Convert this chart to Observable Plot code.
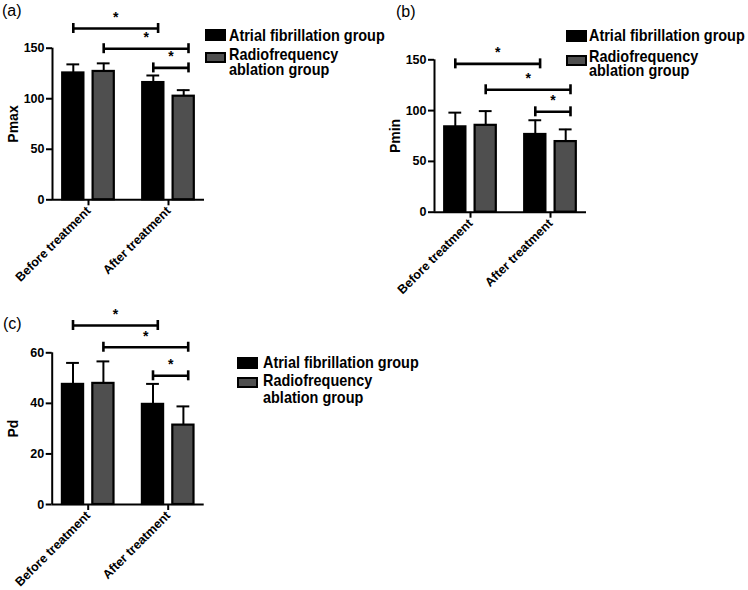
<!DOCTYPE html>
<html><head><meta charset="utf-8">
<script src="https://cdn.jsdelivr.net/npm/d3@7"></script>
<script src="https://cdn.jsdelivr.net/npm/@observablehq/plot@0.6"></script>
<style>
html,body{margin:0;padding:0;background:#fff;}
#fig{position:relative;width:748px;height:590px;overflow:hidden;background:#fff;
  font-family:"Liberation Sans",Arial,sans-serif;color:#000;}
#fig svg{position:absolute;overflow:visible;}
.plab{position:absolute;font-family:"Liberation Sans",Arial,sans-serif;font-size:16px;line-height:16px;white-space:nowrap;}
.sw{position:absolute;box-sizing:border-box;}
.lt{position:absolute;white-space:nowrap;font-weight:bold;font-size:17px;line-height:15px;height:15px;
  transform:scaleX(0.85);transform-origin:0 50%;}
</style></head><body><div id="fig"></div>
<script>
// ---------- data ----------
const groups = ["Before treatment", "After treatment"];
const seriesNames = ["Atrial fibrillation group", "Radiofrequency ablation group"];
const seriesColors = ["#000000", "#4f4f4f"];

// Pmax: [before, after]
const pmaxAF = [125.5, 116];   const pmaxAFsd = [8.5, 7];
const pmaxRF = [127, 102.5];   const pmaxRFsd = [8, 6];
// Pmin
const pminAF = [84, 76.5];     const pminAFsd = [14, 14];
const pminRF = [85.5, 69.5];   const pminRFsd = [14, 12];
// Pd
const pdAF = [47.5, 39.6];     const pdAFsd = [8.5, 8.1];
const pdRF = [47.9, 31.4];     const pdRFsd = [8.7, 7.4];

// comparisons: [groupA, seriesA, groupB, seriesB]
const comparisons = [[0, 0, 1, 0], [0, 1, 1, 1], [1, 0, 1, 1]];
const sigLabels = ["*", "*", "*"];
const pmaxBrackets = [169.5, 149.5, 130.5];
const pminBrackets = [146, 120.5, 98.8];
const pdBrackets = [70.8, 62.2, 50.9];

const pmaxTicks = [0, 50, 100, 150];
const pminTicks = [0, 50, 100, 150];
const pdTicks = [0, 20, 40, 60];

// ---------- layout ----------
const OFF = 0.19, BW = 0.265, CAP = 0.08, XMIN = -0.45, XMAX = 1.45, BR_R = 0.06;
const FONT = '"Liberation Sans",Arial,sans-serif';
const fig = document.getElementById("fig");

function panel({means, sds, brackets, ticks, ylabel, left, top, ml, mt, mb, width, height}) {
  const rows = [];
  groups.forEach((g, gi) => seriesNames.forEach((s, si) => rows.push({
    gi, si, x: gi + (si ? OFF : -OFF), mean: means[si][gi], sd: sds[si][gi]
  })));
  const ymax = ticks[ticks.length - 1];
  const unitsPerPx = ymax / (height - mt - mb);
  const capH = 5 * unitsPerPx;
  const br = comparisons.map(([ga, sa, gb, sb], k) => ({
    xa: ga + (sa ? OFF : -OFF),
    xb: gb + (sb ? OFF : -OFF) + BR_R,
    y: brackets[k], label: sigLabels[k]
  }));
  const svg = Plot.plot({
    width, height,
    marginLeft: ml, marginRight: width - ml - 152, marginTop: mt, marginBottom: mb,
    x: {domain: [XMIN, XMAX]},
    y: {domain: [0, ymax]},
    color: {type: "ordinal", domain: [0, 1], range: seriesColors},
    style: {fontFamily: FONT, background: "transparent", color: "#000"},
    marks: [
      Plot.rect(rows, {x1: d => d.x - BW / 2, x2: d => d.x + BW / 2, y1: 0, y2: "mean",
        fill: "si", stroke: "#000", strokeWidth: 2.2}),
      Plot.ruleX(rows, {x: "x", y1: "mean", y2: d => d.mean + d.sd, stroke: "#000", strokeWidth: 2}),
      Plot.ruleY(rows, {y: d => d.mean + d.sd, x1: d => d.x - CAP, x2: d => d.x + CAP, stroke: "#000", strokeWidth: 2}),
      Plot.ruleX([XMIN], {y1: 0, y2: ymax, stroke: "#000", strokeWidth: 2}),
      Plot.ruleY([0], {x1: XMIN, x2: XMAX, stroke: "#000", strokeWidth: 2}),
      Plot.axisY({ticks, tickSize: 6, tickPadding: 2, fontSize: 12.5, fontWeight: "bold", strokeWidth: 2, label: null}),
      Plot.axisX({ticks: [0, 1], tickFormat: i => groups[i], tickRotate: -45, tickSize: 6, tickPadding: 3,
        fontSize: 12.5, fontWeight: "bold", strokeWidth: 2, label: null}),
      Plot.ruleY(br, {y: "y", x1: "xa", x2: "xb", stroke: "#000", strokeWidth: 2.6}),
      Plot.ruleX(br, {x: "xa", y1: d => d.y - capH, y2: d => d.y + capH, stroke: "#000", strokeWidth: 2.6}),
      Plot.ruleX(br, {x: "xb", y1: d => d.y - capH, y2: d => d.y + capH, stroke: "#000", strokeWidth: 2.6}),
      Plot.text(br, {x: d => (d.xa + d.xb) / 2, y: "y", text: "label", dy: -11, fontSize: 14, fontWeight: "bold"}),
      Plot.text([ylabel], {text: d => d, frameAnchor: "left", dx: -39, rotate: -90, textAnchor: "middle",
        fontSize: 14, fontWeight: "bold"})
    ]
  });
  svg.style.left = left + "px";
  svg.style.top = top + "px";
  fig.appendChild(svg);
}

function label(text, x, baseline) {
  const d = document.createElement("div");
  d.className = "plab"; d.textContent = text;
  d.style.left = x + "px"; d.style.top = (baseline - 12.6) + "px";
  fig.appendChild(d);
}

function legend({sx, tx, blackTop, grayTop, baselines}) {
  const sw = [[blackTop, 12, seriesColors[0]], [grayTop, 11, seriesColors[1]]];
  sw.forEach(([t, h, c]) => {
    const s = document.createElement("div");
    s.className = "sw";
    s.style.cssText = `left:${sx}px;top:${t}px;width:21px;height:${h}px;background:${c};border:2px solid #000;`;
    fig.appendChild(s);
  });
  const lines = [seriesNames[0], "Radiofrequency", "ablation group"];
  lines.forEach((txt, i) => {
    const d = document.createElement("div");
    d.className = "lt"; d.textContent = txt;
    d.style.left = tx + "px"; d.style.top = (baselines[i] - 13.4) + "px";
    fig.appendChild(d);
  });
}

panel({means: [pmaxAF, pmaxRF], sds: [pmaxAFsd, pmaxRFsd], brackets: pmaxBrackets, ticks: pmaxTicks,
  ylabel: "Pmax", left: 0, top: 0, ml: 52, mt: 47.7, mb: 90.7, width: 215, height: 290});
panel({means: [pminAF, pminRF], sds: [pminAFsd, pminRFsd], brackets: pminBrackets, ticks: pminTicks,
  ylabel: "Pmin", left: 382, top: 0, ml: 52, mt: 59.3, mb: 78.3, width: 215, height: 290});
panel({means: [pdAF, pdRF], sds: [pdAFsd, pdRFsd], brackets: pdBrackets, ticks: pdTicks,
  ylabel: "Pd", left: 0, top: 300, ml: 51.7, mt: 52.3, mb: 86, width: 215, height: 290});

label("(a)", 2, 16);
label("(b)", 396, 17);
label("(c)", 3, 329);

legend({sx: 205, tx: 228.5, blackTop: 29, grayTop: 52, baselines: [41, 60, 75]});
legend({sx: 566, tx: 589, blackTop: 30, grayTop: 55, baselines: [41.7, 62, 76]});
legend({sx: 237, tx: 262.5, blackTop: 357, grayTop: 377, baselines: [368, 386.5, 403]});
</script></body></html>
